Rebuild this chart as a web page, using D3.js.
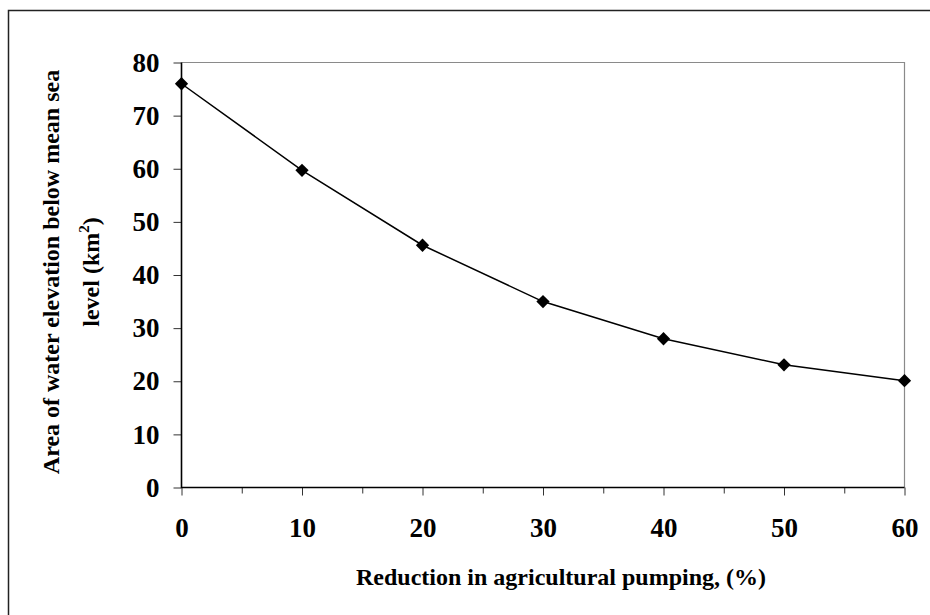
<!DOCTYPE html>
<html>
<head>
<meta charset="utf-8">
<script src="https://cdn.jsdelivr.net/npm/d3@7"></script>
<style>
  body { margin: 0; background: #fff; overflow: hidden; }
  svg { display: block; font-family: "Liberation Serif", "Times New Roman", serif; font-weight: bold; }
</style>
</head>
<body>
<svg></svg>
<script>
const w = 930;
const h = 615;

// data
const reduction = [0, 10, 20, 30, 40, 50, 60];
const area = [76, 59.7, 45.6, 35.0, 28.0, 23.1, 20.1];
const xTicks = [0, 10, 20, 30, 40, 50, 60];
const xMinor = [5, 15, 25, 35, 45, 55];
const yTicks = [0, 10, 20, 30, 40, 50, 60, 70, 80];

const padLeft = 181.5;
const padRight = 904.5;
const padTop = 62.5;
const padBottom = 487.5;

const canvas = d3.select('svg').attr('width', w).attr('height', h);

// outer frame, only top and left edges fall inside the picture
canvas.append('path')
	.attr('d', `M8.5,${h}V10.5H${w}`)
	.attr('fill', 'none').attr('stroke', '#222').attr('stroke-width', 1.5);

const xScale = d3.scaleLinear().domain([0, 60]).range([padLeft, padRight]);
const yScale = d3.scaleLinear().domain([0, 80]).range([padBottom, padTop]);

// top and right plot border, grey
canvas.append('path')
	.attr('d', `M${padLeft},${padTop}H${padRight}V${padBottom}`)
	.attr('fill', 'none').attr('stroke', '#8a8a8a').attr('stroke-width', 1.2);

// y axis
const yAxis = d3.axisLeft(yScale).tickValues(yTicks).tickSize(8).tickPadding(14);
const gy = canvas.append('g').attr('transform', `translate(${padLeft},0)`).call(yAxis);
gy.select('.domain').remove();
gy.selectAll('.tick line').attr('stroke', '#333');
gy.selectAll('.tick text').attr('font-size', 27).attr('fill', '#000')
	.attr('font-family', '"Liberation Serif", serif').attr('font-weight', 'bold');

// x axis
const xAxis = d3.axisBottom(xScale).tickValues(xTicks).tickSize(8).tickPadding(22);
const gx = canvas.append('g').attr('transform', `translate(0,${padBottom})`).call(xAxis);
gx.select('.domain').remove();
gx.selectAll('.tick line').attr('stroke', '#333');
gx.selectAll('.tick text').attr('font-size', 27).attr('fill', '#000')
	.attr('font-family', '"Liberation Serif", serif').attr('font-weight', 'bold');

const xMinorAxis = d3.axisBottom(xScale).tickValues(xMinor).tickSize(6).tickFormat('');
const gxm = canvas.append('g').attr('transform', `translate(0,${padBottom})`).call(xMinorAxis);
gxm.select('.domain').remove();
gxm.selectAll('.tick line').attr('stroke', '#333');

// black axis lines
canvas.append('path')
	.attr('d', `M${padLeft},${padTop}V${padBottom}H${padRight}`)
	.attr('fill', 'none').attr('stroke', '#000').attr('stroke-width', 1.6);

// series line
const line = d3.line().x((d, i) => xScale(reduction[i])).y((d) => yScale(d));
canvas.append('path')
	.datum(area)
	.attr('d', line)
	.attr('fill', 'none').attr('stroke', '#000').attr('stroke-width', 1.5);

// diamond markers
const diamond = d3.symbol().type(d3.symbolSquare).size(88);
canvas.selectAll('.dot')
	.data(area)
	.enter()
	.append('path')
	.attr('class', 'dot')
	.attr('d', diamond)
	.attr('transform', (d, i) => `translate(${xScale(reduction[i])},${yScale(d)}) rotate(45)`)
	.attr('fill', '#000');

// axis titles
canvas.append('text')
	.attr('x', 561).attr('y', 585)
	.attr('text-anchor', 'middle')
	.attr('font-size', 24)
	.text('Reduction in agricultural pumping, (%)');

const yTitle = canvas.append('g').attr('transform', 'translate(0,272) rotate(-90)');
yTitle.append('text')
	.attr('x', 0).attr('y', 59)
	.attr('text-anchor', 'middle')
	.attr('font-size', 24)
	.text('Area of water elevation below mean sea');
const t2 = yTitle.append('text')
	.attr('x', 0).attr('y', 99)
	.attr('text-anchor', 'middle')
	.attr('font-size', 24);
t2.append('tspan').text('level (km');
t2.append('tspan').attr('font-size', 15).attr('dy', -10).text('2');
t2.append('tspan').attr('dy', 10).text(')');
</script>
</body>
</html>
